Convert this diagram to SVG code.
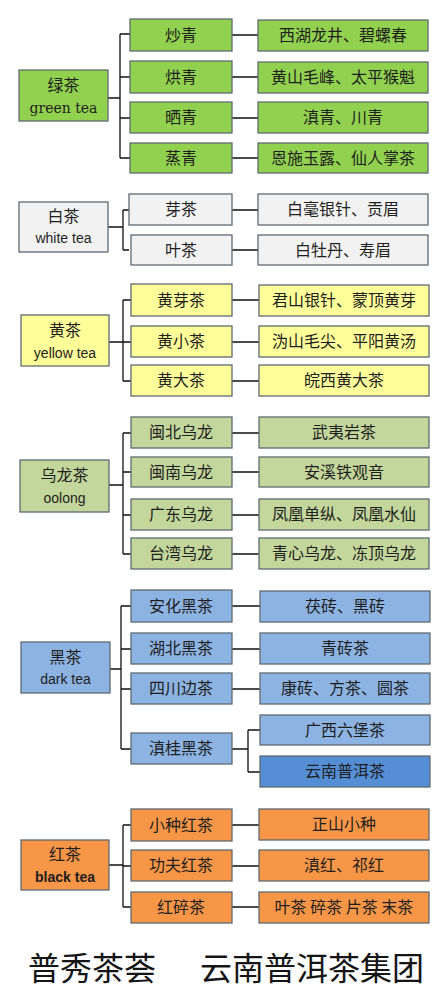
<svg xmlns="http://www.w3.org/2000/svg" width="444" height="991" viewBox="0 0 444 991">
<style>
.b{stroke:#5f6b73;stroke-width:1.3}
.g{fill:#92D050}.w{fill:#F2F2F2}.y{fill:#FFFF99}.o{fill:#C3D69B}.d{fill:#8DB3E2}.p{fill:#558ED5}.r{fill:#F79646}
text{font-family:"Noto Sans CJK SC","Liberation Sans",sans-serif;fill:#1e1e1e;text-anchor:middle}
.m{font-size:16px}.t{font-size:16px}.e{font-size:14px;font-family:"Liberation Sans","Noto Sans",sans-serif}
.s{font-family:"DejaVu Serif","Liberation Serif",serif;font-size:14px}
.f{font-size:32px;text-anchor:start;fill:#151515;font-weight:400}
#c path{fill:none;stroke:#111;stroke-width:1.3}
</style>
<g id="c">
<path d="M108 98H120M120 34V158M120 34H130M120 77H130M120 118H130M120 158H130M232 35H258M232 77H258M232 118H258M232 158H258"/>
<path d="M108 227H123M123 210V250M123 210H129M123 250H129M232 210H258M232 250H258"/>
<path d="M109 342H123M123 300V381M123 300H131M123 342H131M123 381H131M232 300H259M232 342H259M232 381H259"/>
<path d="M109 485H123M123 433V554M123 433H131M123 472H131M123 515H131M123 554H131M232 433H259M232 472H259M232 515H259M232 554H259"/>
<path d="M110 669H121M121 606V749M121 606H131M121 649H131M121 689H131M121 749H131M232 606H260M232 649H260M232 689H260M232 749H248M248 730V772M248 730H260M248 772H260"/>
<path d="M109 865H123M123 825V907M123 825H131M123 866H131M123 907H131M232 825H259M232 866H259M232 907H259"/>
</g>
<g id="green">
<rect class="b g" x="19" y="70" width="89" height="51"/><text class="m" x="63.5" y="91">绿茶</text><text class="s" x="63.5" y="113">green tea</text>
</g>
<g id="g1"><rect class="b g" x="130" y="19" width="102" height="32"/><text class="m" x="181" y="41">炒青</text><rect class="b g" x="258" y="20" width="170" height="31"/><text class="t" x="343" y="41">西湖龙井、碧螺春</text></g>
<g id="g2"><rect class="b g" x="130" y="61" width="102" height="32"/><text class="m" x="181" y="83">烘青</text><rect class="b g" x="258" y="62" width="170" height="31"/><text class="t" x="343" y="83">黄山毛峰、太平猴魁</text></g>
<g id="g3"><rect class="b g" x="130" y="102" width="102" height="31"/><text class="m" x="181" y="123">晒青</text><rect class="b g" x="258" y="102" width="170" height="31"/><text class="t" x="343" y="123">滇青、川青</text></g>
<g id="g4"><rect class="b g" x="130" y="143" width="102" height="30"/><text class="m" x="181" y="164">蒸青</text><rect class="b g" x="258" y="143" width="170" height="30"/><text class="t" x="343" y="164">恩施玉露、仙人掌茶</text></g>

<g id="white">
<rect class="b w" x="19" y="202" width="89" height="50"/><text class="m" x="63.5" y="222">白茶</text><text class="e" x="63.5" y="243">white tea</text>
</g>
<g id="w1"><rect class="b w" x="129" y="194" width="103" height="31"/><text class="m" x="181" y="215">芽茶</text><rect class="b w" x="258" y="194" width="170" height="31"/><text class="t" x="343" y="215">白毫银针、贡眉</text></g>
<g id="w2"><rect class="b w" x="131" y="235" width="101" height="30"/><text class="m" x="181" y="256">叶茶</text><rect class="b w" x="258" y="235" width="170" height="30"/><text class="t" x="343" y="256">白牡丹、寿眉</text></g>

<g id="yellow">
<rect class="b y" x="21" y="315" width="88" height="51"/><text class="m" x="65" y="336">黄茶</text><text class="e" x="65" y="358">yellow tea</text>
</g>
<g id="y1"><rect class="b y" x="131" y="284" width="101" height="32"/><text class="m" x="181" y="306">黄芽茶</text><rect class="b y" x="259" y="285" width="170" height="31"/><text class="t" x="344" y="306">君山银针、蒙顶黄芽</text></g>
<g id="y2"><rect class="b y" x="131" y="326" width="101" height="31"/><text class="m" x="181" y="347">黄小茶</text><rect class="b y" x="259" y="326" width="170" height="31"/><text class="t" x="344" y="347">沩山毛尖、平阳黄汤</text></g>
<g id="y3"><rect class="b y" x="131" y="365" width="101" height="31"/><text class="m" x="181" y="386">黄大茶</text><rect class="b y" x="259" y="365" width="170" height="31"/><text class="t" x="344" y="386">皖西黄大茶</text></g>

<g id="oolong">
<rect class="b o" x="20" y="460" width="89" height="52"/><text class="m" x="64.5" y="481">乌龙茶</text><text class="e" x="64.5" y="503">oolong</text>
</g>
<g id="o1"><rect class="b o" x="131" y="417" width="101" height="31"/><text class="m" x="181" y="438">闽北乌龙</text><rect class="b o" x="259" y="417" width="170" height="31"/><text class="t" x="344" y="438">武夷岩茶</text></g>
<g id="o2"><rect class="b o" x="131" y="457" width="101" height="30"/><text class="m" x="181" y="478">闽南乌龙</text><rect class="b o" x="259" y="457" width="170" height="30"/><text class="t" x="344" y="478">安溪铁观音</text></g>
<g id="o3"><rect class="b o" x="131" y="499" width="101" height="31"/><text class="m" x="181" y="520">广东乌龙</text><rect class="b o" x="259" y="499" width="170" height="31"/><text class="t" x="344" y="520">凤凰单纵、凤凰水仙</text></g>
<g id="o4"><rect class="b o" x="131" y="538" width="101" height="31"/><text class="m" x="181" y="559">台湾乌龙</text><rect class="b o" x="259" y="538" width="170" height="31"/><text class="t" x="344" y="559">青心乌龙、冻顶乌龙</text></g>

<g id="dark">
<rect class="b d" x="21" y="642" width="89" height="51"/><text class="m" x="65.5" y="663">黑茶</text><text class="e" x="65.5" y="684">dark tea</text>
</g>
<g id="d1"><rect class="b d" x="131" y="590" width="101" height="32"/><text class="m" x="181" y="612">安化黑茶</text><rect class="b d" x="260" y="591" width="170" height="31"/><text class="t" x="345" y="612">茯砖、黑砖</text></g>
<g id="d2"><rect class="b d" x="131" y="633" width="101" height="31"/><text class="m" x="181" y="654">湖北黑茶</text><rect class="b d" x="260" y="633" width="170" height="31"/><text class="t" x="345" y="654">青砖茶</text></g>
<g id="d3"><rect class="b d" x="131" y="673" width="101" height="31"/><text class="m" x="181" y="694">四川边茶</text><rect class="b d" x="260" y="673" width="170" height="31"/><text class="t" x="345" y="694">康砖、方茶、圆茶</text></g>
<g id="d4"><rect class="b d" x="131" y="733" width="101" height="31"/><text class="m" x="181" y="754">滇桂黑茶</text></g>
<g id="d5"><rect class="b d" x="260" y="715" width="170" height="30"/><text class="t" x="345" y="736">广西六堡茶</text></g>
<g id="d6"><rect class="b p" x="260" y="756" width="170" height="31"/><text class="t" x="345" y="777">云南普洱茶</text></g>

<g id="black">
<rect class="b r" x="21" y="840" width="88" height="50"/><text class="m" x="65" y="860">红茶</text><text class="e" x="65" y="882" font-weight="bold">black tea</text>
</g>
<g id="r1"><rect class="b r" x="131" y="809" width="101" height="32"/><text class="m" x="181" y="831">小种红茶</text><rect class="b r" x="259" y="809" width="170" height="31"/><text class="t" x="344" y="830">正山小种</text></g>
<g id="r2"><rect class="b r" x="131" y="850" width="101" height="31"/><text class="m" x="181" y="871">功夫红茶</text><rect class="b r" x="259" y="850" width="170" height="31"/><text class="t" x="344" y="871">滇红、祁红</text></g>
<g id="r3"><rect class="b r" x="131" y="892" width="101" height="31"/><text class="m" x="181" y="913">红碎茶</text><rect class="b r" x="259" y="892" width="170" height="31"/><text class="t" x="344" y="913">叶茶 碎茶 片茶 末茶</text></g>

<g id="footer">
<text class="f" x="28" y="980">普秀茶荟</text>
<text class="f" x="200" y="980">云南普洱茶集团</text>
</g>
</svg>
